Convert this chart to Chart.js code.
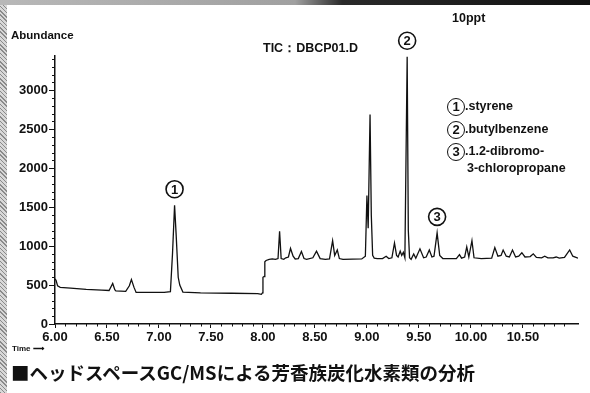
<!DOCTYPE html>
<html>
<head>
<meta charset="utf-8">
<script src="https://cdn.jsdelivr.net/npm/chart.js@4.4.1/dist/chart.umd.min.js"></script>
<style>
  html, body { margin: 0; padding: 0; background: #fff; }
  #wrap { position: relative; width: 590px; height: 393px; overflow: hidden; background: #fff;
          font-family: "Liberation Sans", Arial, sans-serif; color: #111; }
  #wrap canvas { position: absolute; left: 0; top: 0; }
  .txt { position: absolute; white-space: nowrap; font-weight: bold; line-height: 1; }
  .edge-l { position: absolute; left: 0; top: 0; width: 7px; height: 393px;
            background: repeating-linear-gradient(45deg, #8a8a8a 0 1px, #d8d8d8 1px 3px); }
  .edge-t { position: absolute; left: 0; top: 0; width: 590px; height: 5px;
            background: linear-gradient(90deg, #b8b8b8, #a0a0a0 50%, #2a2a2a 58%, #111); }
  .circ { display: inline-block; box-sizing: border-box; width: 18px; height: 18px; border: 1.6px solid #111;
          border-radius: 50%; text-align: center; line-height: 15px; font-size: 13px; vertical-align: middle; }
  .leg { font-size: 12.5px; }
</style>
</head>
<body>
<div id="wrap">
  <canvas id="chart-tic" width="590" height="393"></canvas>
  <div class="edge-l"></div>
  <div class="edge-t"></div>
  <div class="txt" style="left:11px;top:30px;font-size:11.5px;">Abundance</div>
  <div class="txt" style="left:263px;top:42px;font-size:12.5px;">TIC：DBCP01.D</div>
  <div class="txt" style="left:452px;top:12px;font-size:12.5px;">10ppt</div>
  <div class="txt leg" style="left:447px;top:98px;"><span class="circ">1</span>.styrene</div>
  <div class="txt leg" style="left:447px;top:121px;"><span class="circ">2</span>.butylbenzene</div>
  <div class="txt leg" style="left:447px;top:143px;"><span class="circ">3</span>.1.2-dibromo-</div>
  <div class="txt leg" style="left:467px;top:162px;">3-chloropropane</div>
  <div class="txt" style="left:12px;top:345px;font-size:8px;">Time &#10230;</div>
  <div class="txt" style="left:11px;top:363px;font-size:18.5px;font-family:'Noto Sans CJK JP',sans-serif;">■ヘッドスペースGC/MSによる芳香族炭化水素類の分析</div>
</div>
<script>
// retention time (min) and abundance
const times = [
  6.000, 6.010, 6.025, 6.050, 6.150, 6.300, 6.450, 6.520, 6.555, 6.575, 6.585, 6.680, 6.715, 6.735, 6.760, 6.780,
  6.900, 7.050, 7.110, 7.130, 7.150, 7.165, 7.185, 7.200, 7.230, 7.400, 7.700, 7.950, 7.985, 7.995, 8.000, 8.012,
  8.018, 8.030, 8.060, 8.090, 8.120, 8.145, 8.160, 8.175, 8.200, 8.220, 8.245, 8.265, 8.290, 8.310, 8.340, 8.370,
  8.395, 8.420, 8.480, 8.515, 8.550, 8.600, 8.640, 8.670, 8.690, 8.715, 8.735, 8.770, 8.950, 8.985, 9.000, 9.012,
  9.030, 9.042, 9.055, 9.070, 9.100, 9.150, 9.185, 9.210, 9.240, 9.265, 9.285, 9.300, 9.320, 9.335, 9.350, 9.365,
  9.387, 9.398, 9.410, 9.425, 9.450, 9.470, 9.510, 9.545, 9.570, 9.600, 9.625, 9.645, 9.675, 9.700, 9.730, 9.860,
  9.890, 9.910, 9.940, 9.960, 9.980, 10.010, 10.030, 10.100, 10.200, 10.230, 10.260, 10.290, 10.310, 10.340, 10.370, 10.400,
  10.430, 10.460, 10.490, 10.520, 10.570, 10.600, 10.630, 10.680, 10.710, 10.740, 10.790, 10.820, 10.850, 10.900, 10.950, 10.980,
  11.030
];
const abundance = [
  580, 560, 490, 470, 460, 445, 435, 430, 520, 440, 425, 420, 490, 570, 470, 405,
  405, 405, 415, 900, 1525, 1150, 600, 500, 410, 400, 395, 390, 380, 400, 600, 610,
  800, 815, 830, 835, 830, 840, 1190, 840, 830, 850, 860, 970, 870, 835, 840, 930,
  840, 830, 850, 935, 840, 830, 835, 1070, 880, 950, 840, 830, 835, 870, 1650, 1230,
  2690, 1400, 880, 845, 840, 840, 870, 840, 850, 1040, 880, 860, 935, 880, 920, 850,
  3430, 1200, 850, 830, 900, 845, 965, 850, 860, 950, 860, 870, 1170, 880, 840, 840,
  890, 845, 860, 990, 860, 1070, 850, 840, 845, 980, 870, 880, 950, 870, 860, 950,
  860, 870, 915, 860, 865, 900, 855, 850, 870, 850, 850, 860, 845, 855, 950, 870,
  845
];

const xTickValues = [6.0, 6.5, 7.0, 7.5, 8.0, 8.5, 9.0, 9.5, 10.0, 10.5];
const xTickLabels = ['6.00', '6.50', '7.00', '7.50', '8.00', '8.50', '9.00', '9.50', '10.00', '10.50'];
const yTickValues = [0, 500, 1000, 1500, 2000, 2500, 3000];

// numbered peaks
const peakNumbers = ['1', '2', '3'];
const peakTimes = [7.15, 9.387, 9.675];
const peakHeights = [1525, 3430, 1170];

const INK = '#111';

// minor ticks and circled peak numbers, placed through the scales
const marksPlugin = {
  id: 'marks',
  afterDraw(chart) {
    const { ctx, scales: { x, y } } = chart;
    ctx.save();
    ctx.strokeStyle = INK;
    ctx.lineWidth = 1;
    for (let v = 100; v <= 3400; v += 100) {
      if (v % 500 === 0) continue;
      const py = Math.round(y.getPixelForValue(v)) + 0.5;
      ctx.beginPath(); ctx.moveTo(x.left - 3, py); ctx.lineTo(x.left, py); ctx.stroke();
    }
    for (let k = 61; k <= 110; k++) {
      if (k % 5 === 0) continue;
      const px = Math.round(x.getPixelForValue(k / 10)) + 0.5;
      ctx.beginPath(); ctx.moveTo(px, y.bottom); ctx.lineTo(px, y.bottom + 2.5); ctx.stroke();
    }
    ctx.lineWidth = 1.6;
    ctx.font = 'bold 13px "Liberation Sans", Arial, sans-serif';
    ctx.textAlign = 'center';
    ctx.textBaseline = 'middle';
    ctx.fillStyle = INK;
    peakNumbers.forEach((n, i) => {
      const cx = x.getPixelForValue(peakTimes[i]);
      const cy = y.getPixelForValue(peakHeights[i]) - 16;
      ctx.beginPath(); ctx.arc(cx, cy, 8.5, 0, Math.PI * 2); ctx.stroke();
      ctx.fillText(n, cx, cy + 1);
    });
    ctx.restore();
  },
};

new Chart(document.getElementById('chart-tic'), {
  type: 'line',
  data: {
    datasets: [{
      label: 'TIC',
      data: times.map((t, i) => ({ x: t, y: abundance[i] })),
      borderColor: INK,
      borderWidth: 1.3,
      pointRadius: 0,
      tension: 0,
      fill: false,
    }],
  },
  options: {
    responsive: false,
    animation: false,
    devicePixelRatio: 1,
    layout: { padding: { left: 0, top: 56, right: 12, bottom: 39 } },
    plugins: { legend: { display: false }, tooltip: { enabled: false } },
    scales: {
      x: {
        type: 'linear',
        min: 6.0,
        max: 11.03,
        afterBuildTicks: s => { s.ticks = xTickValues.map(v => ({ value: v })); },
        afterFit: s => { s.height = 30; },
        border: { display: true, color: INK, width: 1.5 },
        grid: { drawOnChartArea: false, drawTicks: true, tickLength: 4, color: INK, lineWidth: 1 },
        ticks: {
          color: INK,
          padding: 2,
          maxRotation: 0,
          autoSkip: false,
          font: { family: '"Liberation Sans", Arial, sans-serif', size: 13, weight: 'bold' },
          callback: v => xTickLabels[xTickValues.indexOf(v)] ?? '',
        },
      },
      y: {
        type: 'linear',
        min: 0,
        max: 3440,
        afterBuildTicks: s => { s.ticks = yTickValues.map(v => ({ value: v })); },
        afterFit: s => { s.width = 55; },
        border: { display: true, color: INK, width: 1.5 },
        grid: { drawOnChartArea: false, drawTicks: true, tickLength: 6, color: INK, lineWidth: 1 },
        ticks: {
          color: INK,
          padding: 1,
          autoSkip: false,
          font: { family: '"Liberation Sans", Arial, sans-serif', size: 13, weight: 'bold' },
          callback: v => String(v),
        },
      },
    },
  },
  plugins: [marksPlugin],
});
</script>
</body>
</html>
